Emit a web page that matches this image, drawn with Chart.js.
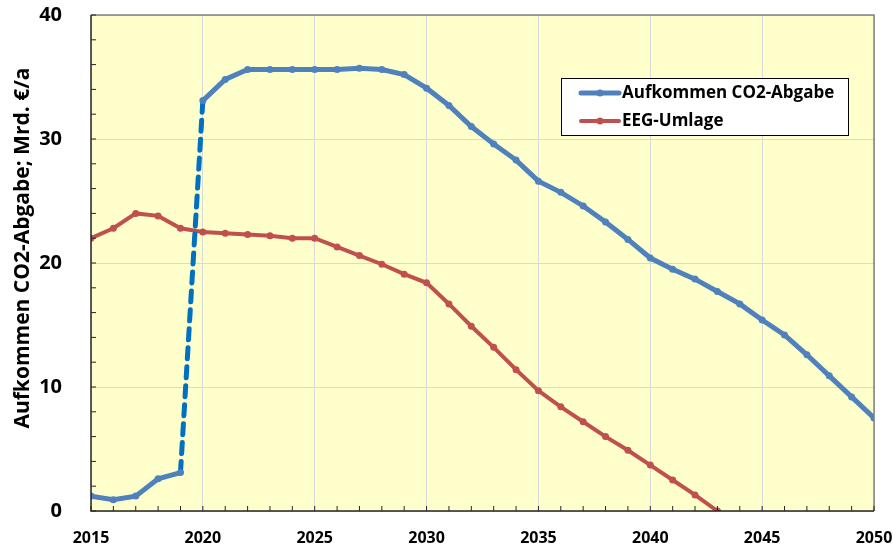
<!DOCTYPE html>
<html>
<head>
<meta charset="utf-8">
<script src="https://cdn.jsdelivr.net/npm/chart.js@4"></script>
<style>
  html, body { margin: 0; padding: 0; background: #fff; }
  #wrap { width: 893px; height: 549px; }
</style>
</head>
<body>
<div id="wrap"><canvas id="chart" width="893" height="549"></canvas></div>
<script>
// Daten
const years = [2015, 2016, 2017, 2018, 2019, 2020, 2021, 2022, 2023, 2024, 2025, 2026, 2027, 2028, 2029, 2030,
    2031, 2032, 2033, 2034, 2035, 2036, 2037, 2038, 2039, 2040, 2041, 2042, 2043, 2044, 2045, 2046, 2047, 2048, 2049, 2050];
const co2Abgabe = [1.2, 0.9, 1.2, 2.6, 3.1, 33.1, 34.8, 35.6, 35.6, 35.6, 35.6, 35.6, 35.7, 35.6, 35.2, 34.1,
    32.7, 31.0, 29.6, 28.3, 26.6, 25.7, 24.6, 23.3, 21.9, 20.4, 19.5, 18.7, 17.7, 16.7, 15.4, 14.2, 12.6, 10.9, 9.2, 7.5];
const eegUmlage = [22.0, 22.8, 24.0, 23.8, 22.8, 22.5, 22.4, 22.3, 22.2, 22.0, 22.0, 21.3, 20.6, 19.9, 19.1, 18.4,
    16.7, 14.9, 13.2, 11.4, 9.7, 8.4, 7.2, 6.0, 4.9, 3.7, 2.5, 1.3, 0];
const seriesNames = ['Aufkommen CO2-Abgabe', 'EEG-Umlage'];
const yTitle = 'Aufkommen CO2-Abgabe; Mrd. €/a';
const xTicks = [2015, 2020, 2025, 2030, 2035, 2040, 2045, 2050];
const yTicks = [0, 10, 20, 30, 40];

const FONT = "'Open Sans', 'DejaVu Sans', sans-serif";

function toPoints(vals) {
    return vals.map((v, i) => ({ x: years[i], y: v }));
}

// Hintergrund, Rahmen, kleine Teilstriche, Achsentitel, Legende
const decorPlugin = {
    id: 'decor',
    beforeDraw(chart) {
        const { ctx, chartArea: a } = chart;
        ctx.save();
        ctx.fillStyle = '#FFFFCC';
        ctx.fillRect(a.left, a.top, a.right - a.left, a.bottom - a.top);
        ctx.restore();
    },
    afterDatasetsDraw(chart) {
        const { ctx, chartArea: a, scales } = chart;
        ctx.save();
        // Rahmen oben/rechts
        ctx.strokeStyle = '#7F7F7F';
        ctx.lineWidth = 1.5;
        ctx.beginPath();
        ctx.moveTo(a.left, a.top); ctx.lineTo(a.right, a.top); ctx.lineTo(a.right, a.bottom);
        ctx.stroke();
        // Achsen links/unten
        ctx.strokeStyle = '#262626';
        ctx.lineWidth = 1.5;
        ctx.beginPath();
        ctx.moveTo(a.left, a.top); ctx.lineTo(a.left, a.bottom); ctx.lineTo(a.right, a.bottom);
        ctx.stroke();
        // Teilstriche
        ctx.lineWidth = 1;
        ctx.beginPath();
        for (let y = 2015; y <= 2050; y++) {
            const px = scales.x.getPixelForValue(y);
            ctx.moveTo(px, a.bottom); ctx.lineTo(px, a.bottom - 5);
        }
        for (let v = 0; v <= 40; v += 2) {
            const py = scales.y.getPixelForValue(v);
            ctx.moveTo(a.left, py); ctx.lineTo(a.left + 5, py);
        }
        ctx.stroke();
        ctx.restore();
    },
    afterDraw(chart) {
        const { ctx } = chart;
        // Achsentitel
        ctx.save();
        ctx.translate(23, 248);
        ctx.rotate(-Math.PI / 2);
        ctx.fillStyle = '#000';
        ctx.font = "bold 21px " + FONT;
        ctx.textAlign = 'center';
        ctx.textBaseline = 'middle';
        ctx.fillText(yTitle, 0, 0);
        ctx.restore();

        // Legende
        const bx = 561, by = 78, bw = 287, bh = 57;
        ctx.save();
        ctx.fillStyle = '#fff';
        ctx.fillRect(bx, by, bw, bh);
        ctx.strokeStyle = '#000';
        ctx.lineWidth = 1;
        ctx.strokeRect(bx + 0.5, by + 0.5, bw, bh);
        chart.data.datasets.forEach((ds, i) => {
            const yy = by + 15 + i * 28;
            ctx.strokeStyle = ds.borderColor;
            ctx.lineWidth = ds.borderWidth;
            ctx.lineCap = 'round';
            ctx.beginPath();
            ctx.moveTo(581, yy); ctx.lineTo(619, yy);
            ctx.stroke();
            ctx.fillStyle = ds.borderColor;
            ctx.beginPath();
            ctx.arc(600, yy, 3.5, 0, Math.PI * 2);
            ctx.fill();
            ctx.fillStyle = '#000';
            ctx.font = "bold 17px " + FONT;
            ctx.textBaseline = 'middle';
            ctx.fillText(ds.label, 622, yy);
        });
        ctx.restore();
    }
};

new Chart(document.getElementById('chart'), {
    type: 'line',
    data: {
        datasets: [{
            label: seriesNames[0],
            data: toPoints(co2Abgabe),
            borderColor: '#4F81BD',
            backgroundColor: '#4F81BD',
            borderWidth: 5,
            pointRadius: 3.5,
            pointBorderWidth: 0,
            pointBackgroundColor: '#4F81BD',
            tension: 0,
            segment: {
                borderDash: c => c.p0DataIndex === 4 ? [11, 8] : undefined,
                borderColor: c => c.p0DataIndex === 4 ? '#0070C0' : undefined,
                borderCapStyle: c => c.p0DataIndex === 4 ? 'round' : undefined
            }
        }, {
            label: seriesNames[1],
            data: toPoints(eegUmlage),
            borderColor: '#C0504D',
            backgroundColor: '#C0504D',
            borderWidth: 4,
            pointRadius: 3.5,
            pointBorderWidth: 0,
            pointBackgroundColor: '#C0504D',
            tension: 0
        }]
    },
    options: {
        responsive: false,
        animation: false,
        layout: { padding: { left: 0, right: 19, top: 15, bottom: 0 } },
        plugins: { legend: { display: false }, tooltip: { enabled: false } },
        scales: {
            x: {
                type: 'linear',
                min: 2015, max: 2050,
                afterBuildTicks: s => { s.ticks = xTicks.map(v => ({ value: v })); },
                afterFit: s => { s.height = 38; s.paddingLeft = 0; s.paddingRight = 0; },
                grid: { color: '#D9D9D9', lineWidth: 1, drawTicks: false },
                border: { display: false },
                ticks: {
                    padding: 18,
                    color: '#000',
                    font: { family: FONT, size: 16, weight: 'bold' },
                    callback: v => String(v),
                    maxRotation: 0
                }
            },
            y: {
                min: 0, max: 40,
                afterBuildTicks: s => { s.ticks = yTicks.map(v => ({ value: v })); },
                afterFit: s => { s.width = 91; s.paddingTop = 0; s.paddingBottom = 0; },
                grid: { color: '#D9D9D9', lineWidth: 1, drawTicks: false },
                border: { display: false },
                ticks: {
                    padding: 29,
                    color: '#000',
                    font: { family: FONT, size: 20, weight: 'bold' }
                }
            }
        }
    },
    plugins: [decorPlugin]
});
</script>
</body>
</html>
